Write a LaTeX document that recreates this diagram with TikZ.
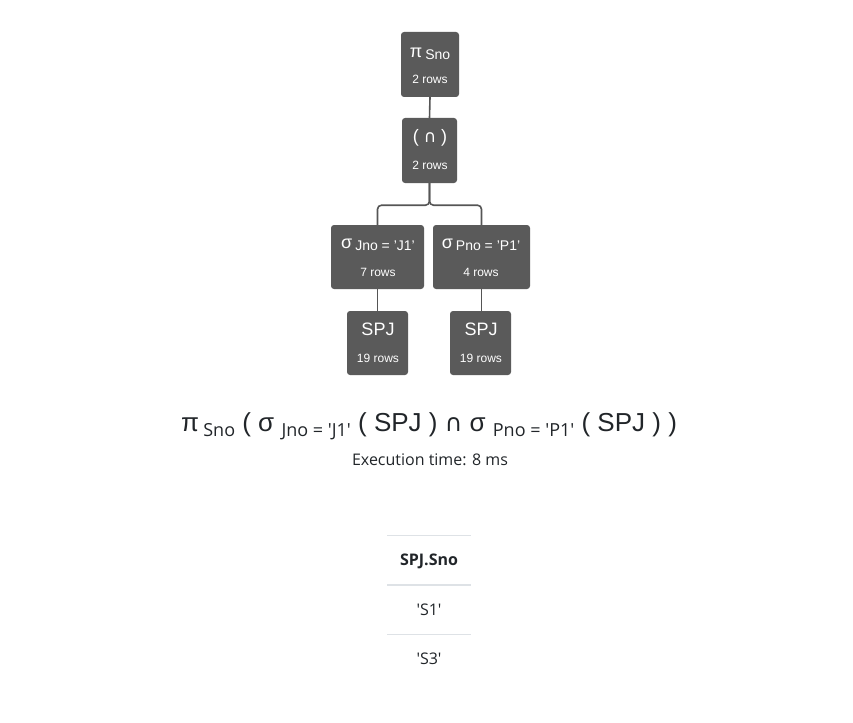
\documentclass[tikz,border=0pt]{standalone}
\usepackage{fontspec}
\setmainfont{Liberation Sans}
\newfontfamily\segoe{Open Sans}
\newfontfamily\dejavu{DejaVu Sans}
\definecolor{boxgray}{HTML}{5A5A5A}
\definecolor{linegray}{HTML}{555555}
\definecolor{txt}{HTML}{212529}
\definecolor{rule}{HTML}{DEE2E6}
\newcommand{\fs}[1]{\fontsize{#1}{#1}\selectfont}
\begin{document}
\begin{tikzpicture}[x=1pt,y=-1pt,
  opbox/.style={fill=boxgray, rounded corners=3pt, inner sep=0pt},
  optext/.style={text=white, inner sep=0pt, anchor=base},
  link/.style={draw=linegray, line width=1.6pt},
  plain/.style={text=txt, inner sep=0pt, anchor=base}]
\useasboundingbox (0,0) rectangle (853,722);
% boxes
\node[opbox, minimum width=58, minimum height=65] (p) at (430,64.5) {};
\node[opbox, minimum width=55, minimum height=65] (i) at (429.5,150.5) {};
\node[opbox, minimum width=93, minimum height=64] (sj) at (377.5,257) {};
\node[opbox, minimum width=97, minimum height=64] (sp) at (481.5,257) {};
\node[opbox, minimum width=61, minimum height=64] (r1) at (377.5,343) {};
\node[opbox, minimum width=61, minimum height=64] (r2) at (480.5,343) {};
% box texts
\node[optext] (pt) at (430,58) {\fs{18}π\,\fs{14}\raisebox{-2pt}{Sno}};
\node[optext] (pr) at (430,84) {\fs{12}2 rows};
\node[optext] (it) at (430,143) {\fs{18}( {\dejavu\fs{17}∩} )};
\node[optext] (ir) at (430,170) {\fs{12}2 rows};
\node[optext] (sjt) at (378,248) {\fs{18}σ\,\fs{14}\raisebox{-2pt}{Jno = 'J1'}};
\node[optext] (sjr) at (378,276) {\fs{12}7 rows};
\node[optext] (spt) at (481,248) {\fs{18}σ\,\fs{14}\raisebox{-2pt}{Pno = 'P1'}};
\node[optext] (spr) at (481,276) {\fs{12}4 rows};
\node[optext] (r1t) at (378,335) {\fs{18}SPJ};
\node[optext] (r1r) at (378,362) {\fs{12}19 rows};
\node[optext] (r2t) at (481,335) {\fs{18}SPJ};
\node[optext] (r2r) at (481,362) {\fs{12}19 rows};
% connectors
\draw[link] (p.south) -- (i.north);
\draw[link, rounded corners=4pt] (i.south) -- ++(0,22) -| (sj.north);
\draw[link, rounded corners=4pt] (i.south) -- ++(0,22) -| (sp.north);
\draw[link] (sj.south) -- (sj.south |- r1.north);
\draw[link] (sp.south) -- (sp.south |- r2.north);
% expression
\node[plain] (expr) at (429,431) {\fs{26}π\,{\segoe\fs{18}\raisebox{-5pt}{Sno}} ( σ {\segoe\fs{18}\raisebox{-5pt}{Jno = 'J1'}} ( SPJ ) {\dejavu\fs{24}∩} σ {\segoe\fs{18}\raisebox{-5pt}{Pno = 'P1'}} ( SPJ ) )};
\node[plain] (exec) at (430,465) {\segoe\fs{16}Execution time: 8 ms};
% table
\draw[rule, line width=1pt] (387,535) coordinate (t0a) -- (471,535) coordinate (t0b);
\node[plain] (hdr) at (429,565) {\segoe\bfseries\fs{16}SPJ.Sno};
\draw[rule, line width=2pt] (387,585) coordinate (t1a) -- (471,585) coordinate (t1b);
\node[plain] (c1) at (429,615) {\segoe\fs{16}'S1'};
\draw[rule, line width=1pt] (387,634) coordinate (t2a) -- (471,634) coordinate (t2b);
\node[plain] (c2) at (429,664) {\segoe\fs{16}'S3'};
\end{tikzpicture}
\end{document}
